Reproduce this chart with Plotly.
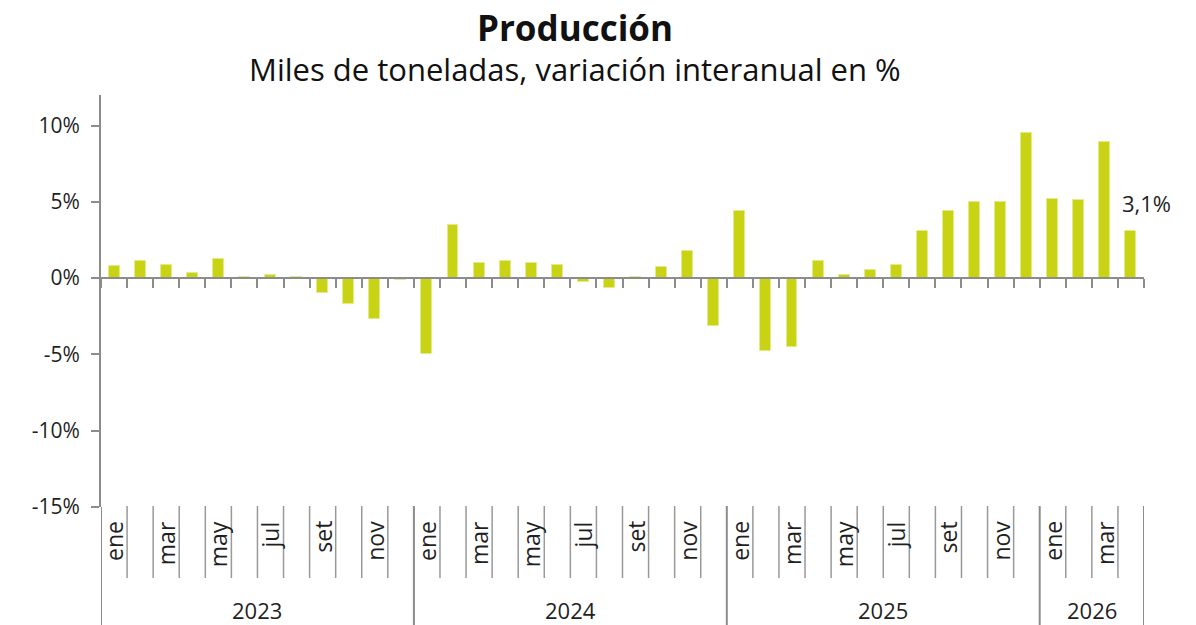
import plotly.graph_objects as go

# ---- data ----
years = [2023] * 12 + [2024] * 12 + [2025] * 12 + [2026] * 4
month_names = ["ene", "feb", "mar", "abr", "may", "jun", "jul", "ago", "set", "oct", "nov", "dic"]
month_idx = list(range(12)) * 3 + [0, 1, 2, 3]
values = [
    0.8, 1.1, 0.85, 0.35, 1.22, 0.05, 0.2, 0.1, -0.95, -1.7, -2.68, -0.15,
    -4.95, 3.49, 1.02, 1.13, 1.02, 0.85, -0.26, -0.63, 0.1, 0.74, 1.79, -3.16,
    4.4, -4.8, -4.5, 1.13, 0.22, 0.54, 0.89, 3.09, 4.4, 4.99, 5.01, 9.48,
    5.18, 5.1, 8.91, 3.1,
]
last_label = "3,1%"
ytick_vals = [-15, -10, -5, 0, 5, 10]
ytick_text = ["-15%", "-10%", "-5%", "0%", "5%", "10%"]
title = "Producción"
subtitle = "Miles de toneladas, variación interanual en %"

# ---- layout geometry ----
W, H = 1196, 625
L, R, T, B = 101, 52, 95, 118
plot_h = H - T - B
plot_w = W - L - R
YMIN, YMAX = -15, 12


def py(pix):
    """pixel row -> paper y"""
    return (H - B - pix) / plot_h


def px(pix):
    return (pix - L) / plot_w


FONT = "Open Sans"
TXT = "#1f1f1f"
AX = "#8c8c8c"
BAR = "#c8d314"

n = len(values)
xs = list(range(n))

fig = go.Figure()
fig.add_trace(go.Bar(
    x=xs, y=values, width=0.42,
    marker=dict(color=BAR, line=dict(color="#e4ea8a", width=1)),
    hoverinfo="skip",
))

boundaries = [i - 0.5 for i in range(n + 1)]
fig.update_layout(
    width=W, height=H,
    margin=dict(l=L, r=R, t=T, b=B),
    paper_bgcolor="white", plot_bgcolor="white",
    showlegend=False,
    bargap=0,
    font=dict(family=FONT, color=TXT),
    xaxis=dict(
        range=[-0.5, n - 0.5], anchor="free", position=(0 - YMIN) / (YMAX - YMIN),
        showline=True, linecolor=AX, linewidth=2,
        ticks="outside", ticklen=9, tickwidth=2, tickcolor=AX,
        tickvals=boundaries, showticklabels=False,
        showgrid=False, zeroline=False, fixedrange=True,
    ),
    yaxis=dict(
        range=[YMIN, YMAX],
        showline=True, linecolor=AX, linewidth=2,
        ticks="outside", ticklen=8, tickwidth=2, tickcolor=AX,
        tickvals=ytick_vals, ticktext=ytick_text,
        tickfont=dict(size=21, color=TXT, family=FONT),
        ticklabelstandoff=7,
        showgrid=False, zeroline=False, fixedrange=True,
    ),
)

shapes = []
shapes.append(dict(type="line", xref="x", yref="paper", x0=-0.5, x1=-0.5,
                   y0=py(H), y1=0, line=dict(color=AX, width=2)))
year_bounds = set()
for i in range(1, n):
    if years[i] != years[i - 1]:
        year_bounds.add(i)
year_bounds.add(n)
for k in range(1, n + 1):
    b = k - 0.5
    if k in year_bounds:
        shapes.append(dict(type="line", xref="x", yref="paper", x0=b, x1=b,
                           y0=py(H), y1=py(506), line=dict(color=AX, width=2)))
    else:
        shapes.append(dict(type="line", xref="x", yref="paper", x0=b, x1=b,
                           y0=py(578), y1=py(506), line=dict(color="#999999", width=1.5)))
fig.update_layout(shapes=shapes)

ann = []
for i in range(n):
    if month_idx[i] % 2 == 0:
        ann.append(dict(x=i, xref="x", y=py(519), yref="paper", text=month_names[month_idx[i]],
                        textangle=-90, showarrow=False, xanchor="center", yanchor="top",
                        font=dict(size=23, color=TXT, family=FONT)))
uniq_years = []
for y in years:
    if y not in uniq_years:
        uniq_years.append(y)
for yv in uniq_years:
    idx = [i for i, y in enumerate(years) if y == yv]
    ann.append(dict(x=(idx[0] + idx[-1]) / 2, xref="x", y=py(610), yref="paper", text=str(yv),
                    showarrow=False, xanchor="center", yanchor="middle",
                    font=dict(size=22, color=TXT, family=FONT)))
ann.append(dict(x=n - 1, y=values[-1], xref="x", yref="y", text=last_label, showarrow=False,
                xanchor="left", yanchor="bottom", xshift=-11, yshift=11,
                font=dict(size=22, color=TXT, family=FONT)))
ann.append(dict(x=px(575), y=py(28), xref="paper", yref="paper", text="<b>" + title + "</b>",
                showarrow=False, xanchor="center", yanchor="middle",
                font=dict(size=35, color="#111111", family=FONT)))
ann.append(dict(x=px(575), y=py(69), xref="paper", yref="paper", text=subtitle,
                showarrow=False, xanchor="center", yanchor="middle",
                font=dict(size=31, color="#111111", family=FONT)))
fig.update_layout(annotations=ann)

fig.write_html("out.html", config={"displayModeBar": False},
               post_script="document.body.style.margin='0';document.body.style.padding='0';")
